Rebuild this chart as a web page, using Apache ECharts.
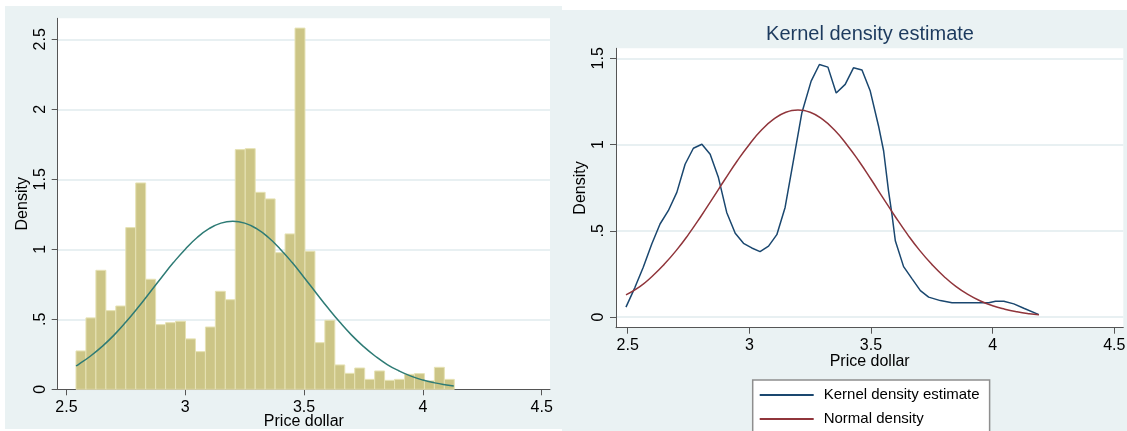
<!DOCTYPE html>
<html><head><meta charset="utf-8">
<script src="https://cdn.jsdelivr.net/npm/echarts@6/dist/echarts.min.js"></script>
<style>html,body{margin:0;padding:0;background:#fff}#c{width:1127px;height:431px}</style>
</head><body><div id="c"></div><script>
// ---- data ----
const binStart = 2.54;
const binWidth = 0.0419;
const histDensity = [0.274,0.51,0.85,0.562,0.595,1.155,1.474,0.786,0.462,0.476,0.486,0.36,0.269,0.445,0.70,0.64,1.712,1.719,1.407,1.36,0.976,1.11,2.58,0.986,0.333,0.493,0.174,0.114,0.152,0.071,0.131,0.064,0.071,0.107,0.112,0.06,0.157,0.071];

const leftNormX = [2.54,2.55,2.60,2.65,2.70,2.75,2.80,2.85,2.90,2.95,3.00,3.05,3.10,3.15,3.20,3.25,3.30,3.35,3.40,3.45,3.50,3.55,3.60,3.65,3.70,3.75,3.80,3.85,3.90,3.95,4.00,4.05,4.10,4.13];
const leftNormY = [0.167,0.177,0.236,0.306,0.387,0.480,0.582,0.690,0.799,0.905,1.001,1.084,1.147,1.187,1.200,1.187,1.147,1.084,1.001,0.905,0.799,0.690,0.582,0.480,0.387,0.306,0.236,0.177,0.131,0.094,0.066,0.046,0.031,0.024];

const kdeX = [2.493,2.530,2.564,2.599,2.633,2.667,2.702,2.736,2.770,2.805,2.839,2.873,2.907,2.942,2.976,3.010,3.044,3.079,3.113,3.147,3.181,3.216,3.254,3.288,3.323,3.357,3.394,3.428,3.463,3.497,3.531,3.552,3.572,3.586,3.600,3.634,3.669,3.703,3.737,3.785,3.833,3.895,3.984,4.012,4.046,4.087,4.128,4.190];
const kdeY = [0.058,0.173,0.289,0.424,0.540,0.617,0.723,0.886,0.979,1.002,0.944,0.809,0.607,0.486,0.428,0.401,0.380,0.412,0.478,0.636,0.906,1.185,1.368,1.464,1.449,1.299,1.349,1.445,1.432,1.310,1.108,0.963,0.732,0.597,0.443,0.293,0.222,0.154,0.116,0.096,0.083,0.083,0.083,0.092,0.092,0.077,0.052,0.015];

const rightNormX = [2.493,2.55,2.60,2.65,2.70,2.75,2.80,2.85,2.90,2.95,3.00,3.05,3.10,3.15,3.20,3.25,3.30,3.35,3.40,3.45,3.50,3.55,3.60,3.65,3.70,3.75,3.80,3.85,3.90,3.95,4.00,4.05,4.10,4.15,4.19];
const rightNormY = [0.129,0.177,0.236,0.306,0.387,0.480,0.582,0.690,0.799,0.905,1.001,1.084,1.147,1.187,1.200,1.187,1.147,1.084,1.001,0.905,0.799,0.690,0.582,0.480,0.387,0.306,0.236,0.177,0.131,0.094,0.066,0.046,0.031,0.020,0.014];

const xTickValues = [2.5,3,3.5,4,4.5];
const yTicksLeft = [0,0.5,1,1.5,2,2.5];
const yTicksRight = [0,0.5,1,1.5];
const seriesNames = ['Kernel density estimate','Normal density'];
const chartTitle = 'Kernel density estimate';
const xName = 'Price dollar';
const yName = 'Density';

// ---- build ----
const FONT = '"Liberation Sans", Arial, sans-serif';
const zip = (a,b) => a.map((v,i)=>[v,b[i]]);
const bins = histDensity.map((h,i)=>[binStart+i*binWidth, binStart+(i+1)*binWidth, h]);
const fmt = v => (v===0 ? '0' : String(v).replace(/^0\./,'.'));

function xAxis(gi, min, max, gap){
  return {
    type:'value', gridIndex:gi, min:min, max:max,
    name:xName, nameLocation:'middle', nameGap:gap, nameMoveOverlap:false,
    nameTextStyle:{fontFamily:FONT,fontSize:16,color:'#000'},
    axisLine:{show:true,onZero:false,lineStyle:{color:'#555',width:1}},
    axisTick:{show:true,length:6,customValues:xTickValues,lineStyle:{color:'#555'}},
    axisLabel:{customValues:xTickValues,margin:10,fontFamily:FONT,fontSize:16,color:'#000',formatter:fmt},
    splitLine:{show:false}
  };
}
function yAxis(gi, min, max, ticks){
  return {
    type:'value', gridIndex:gi, min:min, max:max,
    name:yName, nameLocation:'middle', nameGap:27, nameRotate:90, nameMoveOverlap:false,
    nameTextStyle:{fontFamily:FONT,fontSize:16,color:'#000'},
    axisLine:{show:true,lineStyle:{color:'#555',width:1}},
    axisTick:{show:true,length:6,customValues:ticks,lineStyle:{color:'#555'}},
    axisLabel:{customValues:ticks,rotate:90,margin:9,fontFamily:FONT,fontSize:16,color:'#000',formatter:fmt},
    splitLine:{show:true,lineStyle:{color:'#E8F0F2',width:2}}
  };
}

const chart = echarts.init(document.getElementById('c'), null, {renderer:'canvas'});
chart.setOption({
  animation:false,
  backgroundColor:'#fff',
  graphic:[
    {type:'rect', z:-5, shape:{x:5,y:6,width:557,height:423}, style:{fill:'#EAF2F3'}},
    {type:'rect', z:-5, shape:{x:562,y:10,width:565,height:421}, style:{fill:'#EAF2F3'}}
  ],
  title:{text:chartTitle, left:870, top:24, textAlign:'center', padding:0,
    textStyle:{fontFamily:FONT,fontSize:20,fontWeight:'normal',color:'#1C3A5E'}},
  legend:{
    data:seriesNames, orient:'vertical', left:752.7, top:380, height:120,
    icon:'rect', itemWidth:54, itemHeight:2, itemGap:6,
    padding:[6,10,20,7], backgroundColor:'#fff', borderColor:'#8E8E8E', borderWidth:1.5, borderRadius:0,
    textStyle:{fontFamily:FONT,fontSize:15,color:'#000',lineHeight:18,padding:[0,0,0,5]}
  },
  grid:[
    {left:57.7, top:18.3, right:577, bottom:41.7, show:true, backgroundColor:'#fff', borderWidth:0, outerBoundsMode:'none', containLabel:false},
    {left:616, top:48.3, right:3.7, bottom:103.3, show:true, backgroundColor:'#fff', borderWidth:0, outerBoundsMode:'none', containLabel:false}
  ],
  xAxis:[ xAxis(0, 2.463, 4.535, 24), xAxis(1, 2.452, 4.537, 26) ],
  yAxis:[ yAxis(0, 0, 2.65, yTicksLeft), yAxis(1, -0.061, 1.558, yTicksRight) ],
  series:[
    {type:'custom', xAxisIndex:0, yAxisIndex:0, data:bins, encode:{x:[0,1], y:2},
      renderItem:function(params, api){
        const p0 = api.coord([api.value(0), api.value(2)]);
        const p1 = api.coord([api.value(1), 0]);
        return {type:'rect', shape:{x:p0[0], y:p0[1], width:p1[0]-p0[0], height:p1[1]-p0[1]},
          style:{fill:'#CCC586', stroke:'#E6E2B4', lineWidth:1}};
      }},
    {type:'line', xAxisIndex:0, yAxisIndex:0, data:zip(leftNormX,leftNormY), symbol:'none', smooth:true,
      color:'#2E7B75', lineStyle:{color:'#2E7B75', width:1.5}, z:5},
    {type:'line', name:seriesNames[0], xAxisIndex:1, yAxisIndex:1, data:zip(kdeX,kdeY), symbol:'none', smooth:false,
      color:'#1A476F', lineStyle:{color:'#1A476F', width:1.5}},
    {type:'line', name:seriesNames[1], xAxisIndex:1, yAxisIndex:1, data:zip(rightNormX,rightNormY), symbol:'none', smooth:true,
      color:'#90353B', lineStyle:{color:'#90353B', width:1.5}}
  ]
});
</script></body></html>
